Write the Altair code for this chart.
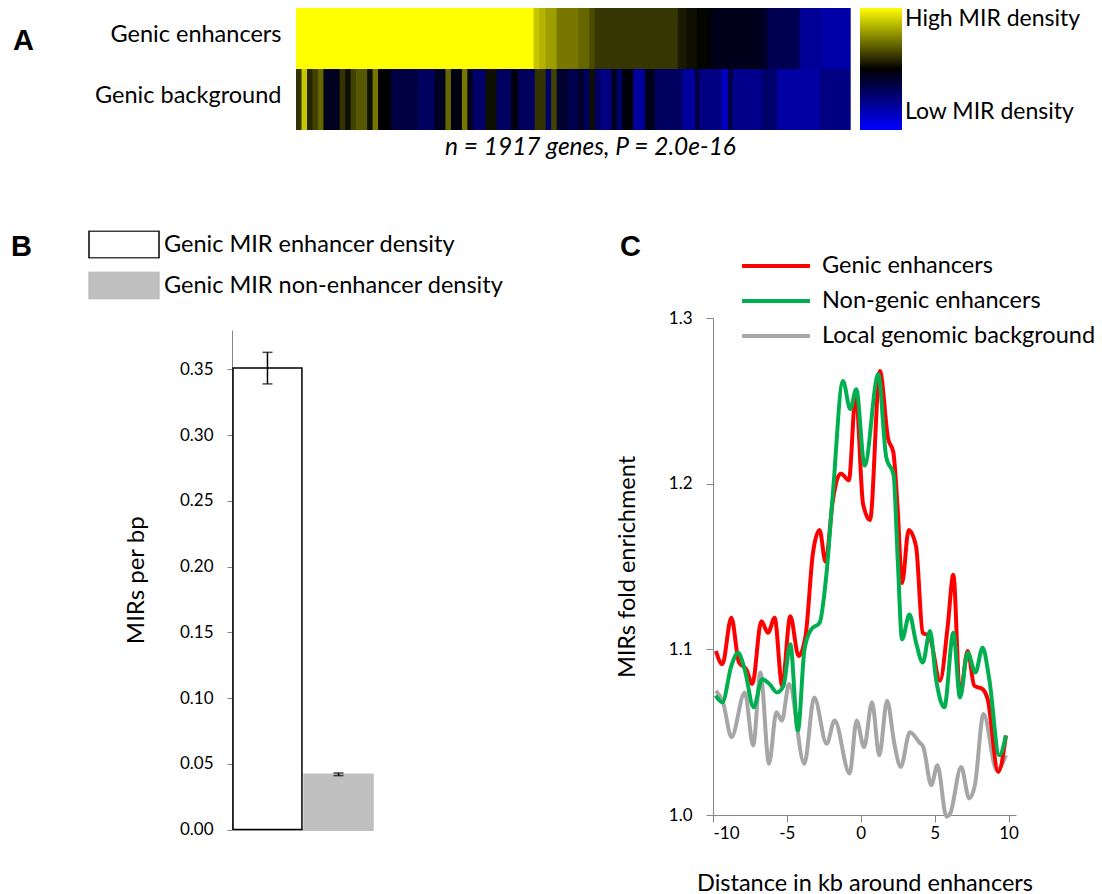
import altair as alt
import pandas as pd

# ---------------- Panel A: heatmap ----------------
rows = ["Genic enhancers", "Genic background"]
# gene-rank boundaries of each colour block and MIR density (0 = low/blue, 0.5 = black, 1 = high/yellow)
enh_bounds = [0, 822, 842, 864, 902, 977, 1015, 1034, 1321, 1352, 1387, 1422, 1439, 1612, 1633, 1743,
              1820, 1917]
enh_vals = [1.0, 0.89, 0.85, 0.81, 0.735, 0.70, 0.645, 0.606, 0.55, 0.53, 0.51, 0.49, 0.45, 0.41, 0.34,
            0.205, 0.17]
bg_bounds = [0, 19, 38, 57, 76, 95, 151, 170, 189, 208, 246, 265, 284, 328, 423, 479, 517, 536, 574, 593,
             612, 656, 694, 744, 769, 826, 864, 883, 902, 940, 977, 996, 1015, 1034, 1053, 1091, 1110,
             1129, 1167, 1207, 1241, 1338, 1380, 1396, 1473, 1494, 1511, 1612, 1664, 1813, 1917]
bg_vals = [0.6, 0.89, 0.57, 0.63, 0.7, 0.44, 0.6, 0.53, 0.63, 0.67, 0.53, 0.73, 0.5, 0.37, 0.31, 0.44,
           0.7, 0.47, 0.73, 0.45, 0.29, 0.53, 0.31, 0.47, 0.32, 0.6, 0.29, 0.63, 0.41, 0.35, 0.42, 0.31,
           0.53, 0.31, 0.25, 0.44, 0.29, 0.48, 0.19, 0.45, 0.31, 0.19, 0.37, 0.25, 0.12, 0.37, 0.23,
           0.29, 0.18, 0.25]
n_genes = 1917

# ---------------- Panel B: bars ----------------
bar_cats = ["Genic MIR enhancer density", "Genic MIR non-enhancer density"]
bar_vals = [0.351, 0.042]
bar_errs = [0.012, 0.001]
b_ticks = [0.0, 0.05, 0.10, 0.15, 0.20, 0.25, 0.30, 0.35]

# ---------------- Panel C: lines ----------------
series = ["Genic enhancers", "Non-genic enhancers", "Local genomic background"]
red_x = [-9.8, -9.37, -8.76, -8.24, -7.75, -7.34, -6.73, -6.28, -5.83, -5.32, -4.77, -4.21, -3.74, -3.24,
         -2.79, -2.39, -1.89, -1.55, -1.33, -0.81, -0.34, 0.15, 0.62, 1.29, 1.85, 2.2, 2.5, 2.79, 3.24,
         3.74, 4.19, 4.64, 5.36, 5.88, 6.26, 6.71, 7.23, 7.68, 8.24, 8.58, 9.3, 9.82]
red_y = [1.099, 1.091, 1.119, 1.092, 1.088, 1.079, 1.117, 1.110, 1.119, 1.078, 1.120, 1.096, 1.108, 1.158,
         1.172, 1.153, 1.190, 1.204, 1.206, 1.202, 1.255, 1.188, 1.178, 1.268, 1.227, 1.219, 1.184, 1.140,
         1.172, 1.162, 1.110, 1.108, 1.081, 1.114, 1.145, 1.072, 1.099, 1.078, 1.076, 1.070, 1.026, 1.048]
green_x = [-9.82, -9.37, -8.76, -8.31, -7.86, -7.25, -6.67, -6.17, -5.68, -5.23, -4.77, -4.26, -3.81,
           -3.36, -2.79, -2.34, -1.89, -1.21, -0.71, -0.31, 0.26, 1.18, 1.72, 2.22, 2.5, 2.79, 3.29, 3.74,
           4.19, 4.68, 5.09, 5.65, 6.26, 6.71, 7.23, 7.75, 8.24, 8.69, 9.37, 9.82]
green_y = [1.072, 1.068, 1.090, 1.098, 1.088, 1.065, 1.082, 1.079, 1.074, 1.078, 1.103, 1.051, 1.100,
           1.112, 1.116, 1.144, 1.194, 1.262, 1.245, 1.257, 1.211, 1.266, 1.216, 1.205, 1.154, 1.106,
           1.121, 1.104, 1.092, 1.111, 1.082, 1.065, 1.110, 1.071, 1.098, 1.086, 1.101, 1.082, 1.036, 1.048]
grey_x = [-9.8, -9.32, -8.75, -7.85, -7.28, -6.79, -6.21, -5.71, -5.34, -4.85, -3.82, -3.15, -2.31, -1.77,
          -0.76, -0.28, 0.22, 0.76, 1.25, 1.78, 2.27, 2.7, 3.32, 3.95, 4.23, 4.77, 5.18, 5.8, 6.05, 6.79,
          7.33, 7.72, 8.3, 9.2, 9.82]
grey_y = [1.075, 1.068, 1.047, 1.074, 1.042, 1.086, 1.031, 1.062, 1.057, 1.079, 1.031, 1.071, 1.043, 1.057,
          1.025, 1.057, 1.041, 1.068, 1.036, 1.069, 1.043, 1.029, 1.050, 1.044, 1.041, 1.018, 1.030, 0.999,
          1.001, 1.029, 1.010, 1.018, 1.061, 1.027, 1.036]
c_yticks = [1.0, 1.1, 1.2, 1.3]
c_xticks = [-10, -5, 0, 5, 10]

# ---------------- build tables ----------------
heat_rows = []
for name, bounds, vals in [(rows[0], enh_bounds, enh_vals), (rows[1], bg_bounds, bg_vals)]:
    for i, v in enumerate(vals):
        heat_rows.append({"row": name, "start": bounds[i], "end": bounds[i + 1], "density": v})
heat_df = pd.DataFrame(heat_rows)

bar_df = pd.DataFrame({"cat": bar_cats, "value": bar_vals, "err": bar_errs})
bar_df["lo"] = bar_df["value"] - bar_df["err"]
bar_df["hi"] = bar_df["value"] + bar_df["err"]
cap_df = pd.concat([
    pd.DataFrame({"cat": bar_cats, "v": bar_df["lo"]}),
    pd.DataFrame({"cat": bar_cats, "v": bar_df["hi"]}),
])

line_df = pd.concat([
    pd.DataFrame({"series": series[0], "kb": red_x, "fold": red_y}),
    pd.DataFrame({"series": series[1], "kb": green_x, "fold": green_y}),
    pd.DataFrame({"series": series[2], "kb": grey_x, "fold": grey_y}),
])

FONT = "Lato"
AX_GREY = "#868686"
BIG = 23.5

# ---------------- layers ----------------
heat = alt.Chart(heat_df).mark_rect(x2Offset=0.7).encode(
    x=alt.X("start:Q",
            scale=alt.Scale(domain=[0, n_genes], range=[296, 850], nice=False, zero=False),
            axis=alt.Axis(orient="bottom", offset=-764, domain=False, ticks=False, labels=False,
                          grid=False, title="n = 1917 genes, P = 2.0e-16", titleFontStyle="italic",
                          titleFontSize=24.5, titlePadding=5, titleX=590)),
    x2="end:Q",
    y=alt.Y("row:N", sort=rows,
            scale=alt.Scale(domain=rows, range=[8, 130], paddingInner=0, paddingOuter=0),
            axis=alt.Axis(orient="left", offset=-296, domain=False, ticks=False, tickSize=0,
                          labelPadding=15, labelFontSize=BIG, labelOffset=-4, labelLimit=400,
                          title=None)),
    color=alt.Color("density:Q",
                    scale=alt.Scale(domain=[0, 0.5, 1], range=["#0000ff", "#000000", "#ffff00"],
                                    interpolate="rgb"),
                    legend=alt.Legend(orient="none", legendX=860, legendY=8, direction="vertical",
                                      gradientLength=122, gradientThickness=42, title=None,
                                      values=[0.15, 1],
                                      labelExpr="datum.value >= 1 ? 'High MIR density' : 'Low MIR density'",
                                      labelFontSize=23, labelOffset=3, labelLimit=500,
                                      gradientStrokeWidth=0)),
)

bx_scale = alt.Scale(domain=bar_cats, range=[233, 373], paddingInner=0.03, paddingOuter=0)
by_scale = alt.Scale(domain=[0, 0.38], range=[829.5, 330], nice=False, zero=True)
b_legend = dict(orient="none", legendX=88, legendY=230.5, title=None,
                symbolType="M-1,-0.386H1V0.386H-1Z", symbolSize=4900, symbolStrokeWidth=1.5,
                labelFontSize=BIG, labelOffset=4, labelLimit=600, clipHeight=28, rowPadding=13)

bars = alt.Chart(bar_df).mark_bar(strokeWidth=1.5).encode(
    x=alt.X("cat:N", sort=bar_cats, scale=bx_scale,
            axis=alt.Axis(orient="bottom", offset=-64.5, labels=False, ticks=False, tickSize=0,
                          title=None, domainColor=AX_GREY, grid=False)),
    y=alt.Y("value:Q", scale=by_scale,
            axis=alt.Axis(orient="left", offset=-232, values=b_ticks, format=".2f", grid=False,
                          tickSize=5, labelPadding=14, labelFontSize=17, title="MIRs per bp",
                          titleFontSize=24, titlePadding=31)),
    fill=alt.Fill("cat:N", sort=bar_cats,
                  scale=alt.Scale(domain=bar_cats, range=["#ffffff", "#bfbfbf"]),
                  legend=alt.Legend(**b_legend)),
    stroke=alt.Stroke("cat:N", sort=bar_cats,
                      scale=alt.Scale(domain=bar_cats, range=["#000000", "#bfbfbf"]),
                      legend=alt.Legend(**b_legend)),
)

err_rule = alt.Chart(bar_df).mark_rule(color="black", strokeWidth=1.5).encode(
    x=alt.X("cat:N", sort=bar_cats, scale=bx_scale, axis=None),
    y=alt.Y("lo:Q", scale=by_scale, axis=None),
    y2="hi:Q",
)
err_caps = alt.Chart(cap_df).mark_tick(color="black", thickness=1.5, size=10).encode(
    x=alt.X("cat:N", sort=bar_cats, scale=bx_scale, axis=None),
    y=alt.Y("v:Q", scale=by_scale, axis=None),
)

c_x = alt.X("kb:Q", scale=alt.Scale(domain=[-10, 10.5], range=[713, 1016], nice=False, zero=False),
            axis=alt.Axis(orient="bottom", offset=-79, values=c_xticks, labelExpr="'' + datum.value",
                          grid=False, tickSize=7, labelPadding=3, labelFontSize=17,
                          title="Distance in kb around enhancers", titleFontSize=BIG, titlePadding=30))
c_y = alt.Y("fold:Q", scale=alt.Scale(domain=[1.0, 1.3], range=[815, 318], nice=False, zero=False),
            axis=alt.Axis(orient="left", offset=-713, values=c_yticks, format=".1f", grid=False,
                          tickSize=7, labelPadding=14, labelFontSize=17, title="MIRs fold enrichment",
                          titleFontSize=BIG, titlePadding=29))
c_color = alt.Color("series:N", sort=series,
                    scale=alt.Scale(domain=series, range=["#ff0000", "#00b050", "#a6a6a6"]),
                    legend=alt.Legend(orient="none", legendX=740, legendY=256, title=None,
                                      symbolType="stroke", symbolSize=4624, symbolStrokeWidth=4,
                                      labelFontSize=BIG, labelOffset=10, labelLimit=600,
                                      clipHeight=20, rowPadding=11))


def series_line(name):
    return alt.Chart(line_df).transform_filter(
        alt.datum.series == name
    ).mark_line(interpolate="monotone", strokeWidth=4).encode(x=c_x, y=c_y, color=c_color)


# drawing order: background first, then genic, then non-genic on top
lines = alt.layer(series_line(series[2]), series_line(series[0]), series_line(series[1]))


def letter(t, x, y):
    return alt.Chart(pd.DataFrame({"t": [t]})).mark_text(
        text=t, fontSize=29, fontWeight="bold", align="left", baseline="alphabetic", font="Liberation Sans"
    ).encode(x=alt.value(x), y=alt.value(y))


chart = alt.layer(
    heat, bars, err_rule, err_caps, lines,
    letter("A", 13, 50), letter("B", 11, 256), letter("C", 620, 256),
).resolve_scale(
    x="independent", y="independent", color="independent", fill="independent", stroke="independent"
).resolve_axis(
    x="independent", y="independent"
).properties(
    width=1102, height=894, autosize=alt.AutoSizeParams(type="none"), padding=0,
).configure(
    font=FONT, background="white"
).configure_view(
    stroke=None
).configure_axis(
    domainColor=AX_GREY, tickColor=AX_GREY, labelColor="#000000", titleColor="#000000",
    titleFontWeight="normal", labelFont=FONT, titleFont=FONT,
).configure_legend(
    labelColor="#000000", labelFont=FONT, padding=0,
)

chart.save("out.html", embed_options={"renderer": "svg", "actions": False})
